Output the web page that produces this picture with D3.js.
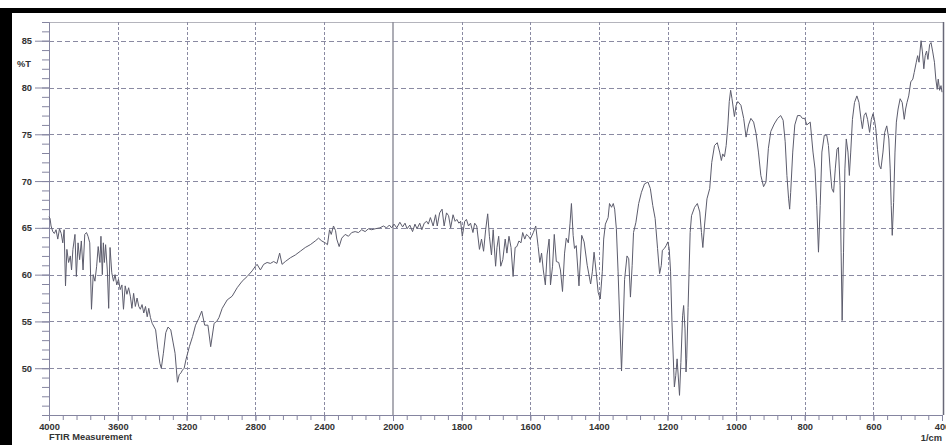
<!DOCTYPE html>
<html>
<head>
<meta charset="utf-8">
<script src="https://cdn.jsdelivr.net/npm/d3@7/dist/d3.min.js"></script>
<style>
	body { margin: 0; background: #fff; }
	.lbl { font-family: "Liberation Sans", Arial, sans-serif; font-size: 9.3px; font-weight: bold; fill: #333; }
</style>
</head>
<body>
<div id="chartContainer"></div>
<script>
// ass labels
var xTickLabels = [4000, 3600, 3200, 2800, 2400, 2000, 1800, 1600, 1400, 1200, 1000, 800, 600, 400];
var yTickLabels = [50, 55, 60, 65, 70, 75, 80, 85];

// spectrum, [wavenumber 1/cm, %T]
var bandHigh = [
	[4000, 66.2], [3994, 66.0], [3988, 65.2], [3978, 64.6], [3969, 64.4], [3959, 64.8], [3949, 63.8], [3939, 64.9],
	[3929, 64.4], [3920, 63.4], [3912, 64.8], [3904, 58.8], [3896, 62.7], [3886, 61.3], [3876, 62.0], [3869, 60.5],
	[3861, 62.7], [3849, 64.3], [3841, 59.8], [3831, 63.4], [3822, 61.6], [3812, 63.6], [3802, 60.5], [3792, 64.3],
	[3782, 64.5], [3773, 64.1], [3763, 63.4], [3753, 56.3], [3743, 60.0], [3733, 59.3], [3723, 60.9], [3714, 63.0],
	[3704, 61.3], [3698, 64.1], [3690, 60.0], [3684, 63.4], [3678, 61.3], [3671, 63.2], [3661, 60.5], [3653, 56.4],
	[3645, 62.9], [3635, 60.2], [3625, 59.3], [3616, 60.0], [3606, 58.9], [3596, 59.5], [3586, 58.4], [3576, 58.9],
	[3567, 56.3], [3557, 58.8], [3547, 57.9], [3537, 58.6], [3527, 57.7], [3518, 56.4], [3508, 58.0], [3498, 56.6],
	[3488, 57.5], [3478, 56.6], [3469, 56.3], [3459, 56.8], [3449, 55.9], [3439, 56.6], [3429, 55.5], [3420, 56.4],
	[3410, 55.4], [3400, 54.8], [3380, 54.1], [3367, 52.0], [3355, 50.5], [3347, 50.0], [3335, 51.6], [3321, 53.8],
	[3308, 54.4], [3292, 54.1], [3278, 52.7], [3267, 51.6], [3259, 49.8], [3253, 48.5], [3243, 49.3], [3233, 49.5],
	[3224, 49.8], [3214, 50.0], [3204, 50.9], [3184, 52.3], [3165, 53.4], [3148, 54.6], [3130, 55.3], [3112, 56.1],
	[3095, 54.6], [3076, 54.6], [3060, 52.3], [3040, 54.8], [3025, 55.0], [3012, 55.4], [2993, 56.4], [2964, 57.3],
	[2935, 57.7], [2906, 58.6], [2877, 59.3], [2848, 59.8], [2819, 60.4], [2800, 60.9], [2790, 61.1], [2771, 60.5],
	[2752, 61.1], [2732, 61.3], [2713, 61.2], [2694, 61.4], [2675, 61.2], [2659, 62.3], [2645, 61.1], [2626, 61.4],
	[2597, 61.8], [2568, 62.1], [2539, 62.5], [2510, 62.9], [2481, 63.2], [2452, 63.6], [2433, 63.9], [2414, 63.6],
	[2394, 63.4], [2381, 63.2], [2369, 64.8], [2359, 64.3], [2346, 65.2], [2334, 64.7], [2327, 63.8], [2313, 63.0],
	[2298, 63.9], [2278, 64.3], [2259, 64.1], [2240, 64.5], [2220, 64.6], [2201, 64.5], [2182, 64.8], [2162, 64.6],
	[2143, 64.9], [2124, 64.8], [2104, 64.9], [2076, 65.0], [2056, 65.2], [2037, 65.0], [2021, 65.3], [2008, 65.0]
];

var bandMid = [
	[1997, 65.4], [1989, 65.0], [1980, 65.6], [1972, 65.1], [1965, 65.5], [1959, 64.9], [1951, 65.3], [1943, 64.6],
	[1936, 65.4], [1930, 64.9], [1922, 65.5], [1916, 64.8], [1909, 65.5], [1902, 65.7], [1897, 65.4], [1891, 66.1],
	[1883, 65.2], [1876, 66.4], [1871, 65.2], [1864, 66.6], [1857, 67.0], [1851, 65.2], [1844, 66.6], [1838, 66.3],
	[1832, 65.0], [1825, 66.4], [1819, 65.7], [1814, 65.9], [1808, 65.5], [1803, 65.7], [1798, 64.1], [1791, 65.7],
	[1786, 65.9], [1780, 65.2], [1774, 65.5], [1767, 64.5], [1762, 65.5], [1756, 65.2], [1748, 62.7], [1742, 63.8],
	[1736, 62.5], [1730, 64.8], [1724, 66.5], [1719, 64.1], [1713, 62.1], [1708, 64.8], [1701, 60.9], [1697, 62.9],
	[1692, 64.1], [1686, 60.9], [1680, 61.6], [1673, 63.8], [1668, 62.3], [1662, 64.1], [1656, 62.9], [1650, 59.8],
	[1644, 62.9], [1639, 63.0], [1633, 63.6], [1627, 63.4], [1622, 64.5], [1616, 63.8], [1611, 64.3], [1605, 64.1],
	[1600, 63.8], [1591, 64.5], [1584, 65.2], [1577, 63.0], [1572, 61.3], [1567, 62.3], [1562, 60.5], [1556, 58.9],
	[1551, 62.1], [1545, 63.8], [1541, 58.9], [1535, 60.9], [1530, 64.3], [1524, 61.4], [1517, 61.3], [1512, 60.5],
	[1506, 58.2], [1500, 62.3], [1495, 63.9], [1489, 63.4], [1484, 65.5], [1480, 67.6], [1475, 64.2], [1471, 62.8],
	[1466, 63.1], [1458, 58.8], [1450, 64.2], [1443, 63.5], [1434, 61.0], [1424, 59.0], [1419, 60.3], [1414, 62.4],
	[1408, 60.3], [1402, 58.1], [1396, 57.4], [1390, 60.3], [1386, 63.8], [1381, 65.4], [1373, 66.1], [1369, 67.6],
	[1363, 67.2], [1358, 67.6], [1354, 67.0], [1349, 64.9], [1344, 60.3], [1339, 54.9], [1334, 49.7], [1329, 54.9],
	[1325, 59.5], [1318, 62.0], [1313, 61.7], [1308, 57.6], [1303, 61.0], [1299, 64.5], [1292, 65.6], [1284, 67.6],
	[1276, 68.8], [1267, 69.7], [1257, 69.9], [1250, 69.2], [1243, 67.4], [1236, 66.0], [1229, 62.8], [1223, 60.1],
	[1218, 61.0], [1215, 62.6], [1209, 62.8], [1204, 63.1], [1199, 63.5], [1195, 62.8], [1191, 60.3], [1187, 54.9]
];

var bandLow = [
	[1180, 48.0], [1176, 49.2], [1172, 51.0], [1165, 47.1], [1161, 50.6], [1156, 55.6], [1153, 56.7], [1149, 54.2],
	[1146, 49.6], [1144, 51.0], [1140, 56.5], [1137, 60.5], [1134, 64.5], [1130, 66.3], [1121, 67.2], [1113, 67.6],
	[1106, 66.7], [1101, 64.5], [1097, 62.9], [1092, 65.3], [1085, 68.1], [1077, 69.2], [1071, 72.0], [1063, 73.8],
	[1055, 74.1], [1048, 73.1], [1043, 72.2], [1039, 72.9], [1034, 72.6], [1029, 73.8], [1024, 76.0], [1020, 78.5],
	[1016, 79.7], [1012, 78.8], [1005, 76.9], [1000, 78.1], [995, 78.5], [986, 78.1], [978, 76.7], [971, 74.7],
	[964, 76.0], [957, 76.7], [949, 76.3], [942, 75.1], [935, 73.1], [928, 70.6], [920, 69.4], [913, 69.9],
	[906, 73.5], [899, 75.3], [889, 76.1], [879, 76.7], [870, 77.0], [863, 76.5], [857, 74.2], [852, 70.6],
	[847, 68.1], [844, 67.0], [841, 68.8], [835, 73.1], [829, 76.0], [821, 77.0], [813, 77.0], [807, 76.7],
	[800, 76.7], [794, 76.0], [784, 76.3], [776, 73.1], [770, 71.3], [765, 67.4], [760, 62.4], [755, 67.4],
	[750, 73.1], [743, 74.9], [736, 74.9], [731, 73.8], [726, 71.3], [721, 69.2], [716, 68.8], [711, 71.3],
	[706, 73.4], [702, 73.6], [697, 69.5], [694, 62.4], [691, 55.1], [687, 62.4], [683, 71.3], [679, 74.5],
	[674, 73.1], [670, 70.6], [666, 73.1], [661, 76.6], [655, 78.4], [648, 79.1], [642, 78.4], [636, 76.6],
	[632, 75.6], [627, 77.0], [622, 77.3], [617, 76.6], [611, 75.2], [606, 76.6], [601, 77.2], [597, 76.6],
	[593, 75.6], [588, 73.4], [583, 71.7], [578, 71.3], [572, 73.1], [567, 75.2], [561, 75.9], [555, 74.5],
	[551, 71.3], [548, 67.4], [545, 64.2], [541, 67.7], [537, 73.1], [533, 76.3], [528, 77.7], [522, 78.8],
	[516, 78.4], [510, 76.6], [506, 77.7], [502, 78.4], [497, 79.1], [491, 80.6], [485, 80.9], [481, 81.6],
	[475, 82.7], [471, 83.4], [467, 82.7], [464, 83.9], [461, 85.0], [457, 83.8], [453, 82.0], [449, 83.4],
	[445, 83.9], [441, 83.0], [436, 84.6], [432, 84.8], [427, 83.8], [422, 82.7], [418, 80.9], [414, 79.8],
	[411, 80.9], [407, 79.7], [403, 80.2], [400, 79.5]
];

Chart = {
	width : 946,
	height : 445,
	left : 49, // y ass
	right : 942, // 400 1/cm
	top : 22,
	bottom : 415, // x ass
	breakX : 393, // 2000 1/cm, kur mainās mērogs
	gridColor : "#8a8aa2",
	axisColor : "#8585a0",
	lineColor : "#5c5c6c",

	drawChart : function(){
		var svg = d3.select("#chartContainer")
			.append("svg")
			.attr("width", Chart.width)
			.attr("height", Chart.height);

		// abscisa ar mēroga maiņu pie 2000
		var x = d3.scaleLinear()
			.domain([4000, 2000, 400])
			.range([Chart.left, Chart.breakX, Chart.right]);
		var y = d3.scaleLinear()
			.domain([45, 87])
			.range([Chart.bottom, Chart.top]);

		this.drawFrame(svg);
		this.drawGrid(svg, x, y);
		this.drawAxes(svg, x, y);
		this.drawSpectrum(svg, x, y);
		this.drawTexts(svg);
	},

	drawFrame : function(svg){
		// scan border
		svg.append("rect").attr("x", 0).attr("y", 8).attr("width", Chart.width).attr("height", 5).attr("fill", "#000");
		svg.append("rect").attr("x", 0).attr("y", 8).attr("width", 12).attr("height", Chart.height - 8).attr("fill", "#000");

		svg.append("line")
			.attr("x1", Chart.left).attr("y1", Chart.top + 0.5)
			.attr("x2", Chart.right + 1).attr("y2", Chart.top + 0.5)
			.style("stroke", "#b4b4bc").style("stroke-width", 1);
		svg.append("line")
			.attr("x1", Chart.right + 1.5).attr("y1", Chart.top)
			.attr("x2", Chart.right + 1.5).attr("y2", Chart.bottom)
			.style("stroke", "#686878").style("stroke-width", 1.5);
	},

	drawGrid : function(svg, x, y){
		var g = svg.append("g").attr("class", "grid");

		g.selectAll("line.h")
			.data(yTickLabels)
			.enter().append("line")
			.attr("class", "h")
			.attr("x1", Chart.left).attr("x2", Chart.right)
			.attr("y1", function(d){ return Math.round(y(d)) + 0.5; })
			.attr("y2", function(d){ return Math.round(y(d)) + 0.5; })
			.style("stroke", Chart.gridColor)
			.style("stroke-width", 1)
			.style("stroke-dasharray", "5,3");

		g.selectAll("line.v")
			.data(xTickLabels.filter(function(d){ return d != 4000 && d != 2000 && d != 400; }))
			.enter().append("line")
			.attr("class", "v")
			.attr("x1", function(d){ return Math.round(x(d)) + 0.5; })
			.attr("x2", function(d){ return Math.round(x(d)) + 0.5; })
			.attr("y1", Chart.top).attr("y2", Chart.bottom)
			.style("stroke", Chart.gridColor)
			.style("stroke-width", 1)
			.style("stroke-dasharray", "3,2");

		// 2000 - nepārtraukta līnija
		g.append("line")
			.attr("x1", x(2000)).attr("x2", x(2000))
			.attr("y1", Chart.top).attr("y2", Chart.bottom)
			.style("stroke", "#8a8a96")
			.style("stroke-width", 1.4);
	},

	drawAxes : function(svg, x, y){
		var minorX = d3.range(4000, 2000, -80).concat(d3.range(2000, 399, -40));
		var minorY = d3.range(45, 88, 1);
		var fmt = d3.format("d");

		// y ass
		svg.append("g")
			.attr("transform", "translate(" + Chart.left + ",0)")
			.call(d3.axisLeft(y).tickValues(minorY).tickSize(7).tickSizeOuter(0).tickFormat(""))
			.call(Chart.styleAxis);
		svg.append("g")
			.attr("transform", "translate(" + Chart.left + ",0)")
			.call(d3.axisLeft(y).tickValues(yTickLabels).tickSize(14).tickSizeOuter(0).tickPadding(3).tickFormat(fmt))
			.call(Chart.styleAxis);

		// x ass
		svg.append("g")
			.attr("transform", "translate(0," + Chart.bottom + ")")
			.call(d3.axisBottom(x).tickValues(minorX).tickSize(5).tickSizeOuter(0).tickFormat(""))
			.call(Chart.styleAxis);
		svg.append("g")
			.attr("transform", "translate(0," + Chart.bottom + ")")
			.call(d3.axisBottom(x).tickValues(xTickLabels).tickSize(6).tickSizeOuter(0).tickPadding(2).tickFormat(fmt))
			.call(Chart.styleAxis);
	},

	styleAxis : function(g){
		g.select(".domain").style("stroke", Chart.axisColor).style("stroke-width", 1);
		g.selectAll(".tick line").style("stroke", Chart.axisColor);
		g.selectAll(".tick text")
			.attr("class", "lbl")
			.style("font-family", "\"Liberation Sans\", Arial, sans-serif")
			.style("font-size", "9.3px")
			.style("font-weight", "bold")
			.style("fill", "#333");
	},

	drawSpectrum : function(svg, x, y){
		var data = bandHigh.concat(bandMid, bandLow);
		var line = d3.line()
			.x(function(d){ return x(d[0]); })
			.y(function(d){ return y(d[1]); });

		svg.append("path")
			.datum(data)
			.attr("d", line)
			.style("fill", "none")
			.style("stroke", Chart.lineColor)
			.style("stroke-width", 1)
			.style("stroke-linejoin", "round");
	},

	drawTexts : function(svg){
		svg.append("text")
			.attr("class", "lbl")
			.attr("x", 17).attr("y", 67)
			.text("%T");
		svg.append("text")
			.attr("class", "lbl")
			.attr("x", Chart.left).attr("y", 439.5)
			.text("FTIR Measurement");
		svg.append("text")
			.attr("class", "lbl")
			.attr("x", Chart.right).attr("y", 440.5)
			.attr("text-anchor", "end")
			.text("1/cm");
	}
};

Chart.drawChart();
</script>
</body>
</html>
